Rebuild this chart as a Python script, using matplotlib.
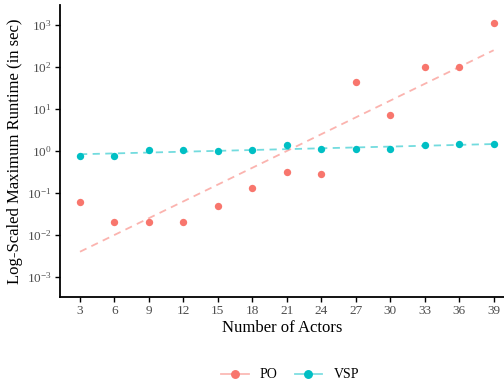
import matplotlib
matplotlib.use("Agg")
import matplotlib.pyplot as plt
from matplotlib.lines import Line2D
import numpy as np

plt.rcParams['font.family'] = ['Liberation Serif', 'DejaVu Serif']
plt.rcParams['mathtext.fontset'] = 'custom'
plt.rcParams['mathtext.rm'] = 'Liberation Serif'
plt.rcParams['mathtext.it'] = 'Liberation Serif:italic'

actors = [3, 6, 9, 12, 15, 18, 21, 24, 27, 30, 33, 36, 39]
po_runtime = [0.06, 0.02, 0.02, 0.02, 0.05, 0.13, 0.31, 0.29, 44, 7.3, 100, 100, 1120]
vsp_runtime = [0.76, 0.78, 1.05, 1.05, 1.0, 1.05, 1.4, 1.1, 1.1, 1.1, 1.4, 1.45, 1.45]
series = [("PO", po_runtime, "#F8766D"), ("VSP", vsp_runtime, "#00BFC4")]

fig = plt.figure(figsize=(5.04, 3.86), dpi=100)
ax = fig.add_axes([60 / 504, 1 - 297 / 386, 444 / 504, 292 / 386])

x = np.array(actors, dtype=float)
handles = []
for name, vals, col in series:
    # linear fit on log10 scale, like geom_smooth(method="lm")
    k, b = np.polyfit(x, np.log10(vals), 1)
    ax.plot(x, 10 ** (k * x + b), ls=(0, (4, 3)), color=col, alpha=0.55, lw=1.3, zorder=2)
    ax.scatter(x, vals, s=28, color=col, zorder=3, linewidths=0)
    handles.append(Line2D([], [], color=col + "80", lw=1.3, marker='o', markersize=5.4,
                          markerfacecolor=col, markeredgecolor=col, label=name))

ax.set_yscale('log')
ax.set_ylim(10 ** -3.48, 10 ** 3.48)
ax.set_xlim(1.26, 39.9)
ax.set_xticks(actors)
ax.set_yticks([10.0 ** e for e in range(-3, 4)])
ax.set_yticklabels([r'$10^{%d}$' % e for e in range(-3, 4)])
ax.minorticks_off()
ax.tick_params(colors='#4D4D4D', labelsize=9.5, length=3.5, width=1, pad=2.5)
ax.tick_params(axis='both', color='black')

for s in ['top', 'right']:
    ax.spines[s].set_visible(False)
for s in ['left', 'bottom']:
    ax.spines[s].set_linewidth(1.3)

ax.set_xlabel('Number of Actors', fontsize=12, labelpad=2)
ax.set_ylabel('Log-Scaled Maximum Runtime (in sec)', fontsize=12, labelpad=3)

fig.legend(handles=handles, loc='center', bbox_to_anchor=(290 / 504, 1 - 375 / 386),
           ncol=2, frameon=False, fontsize=10, handlelength=2.0, columnspacing=1.2,
           handletextpad=0.8)

fig.savefig('out.png', dpi=100)
